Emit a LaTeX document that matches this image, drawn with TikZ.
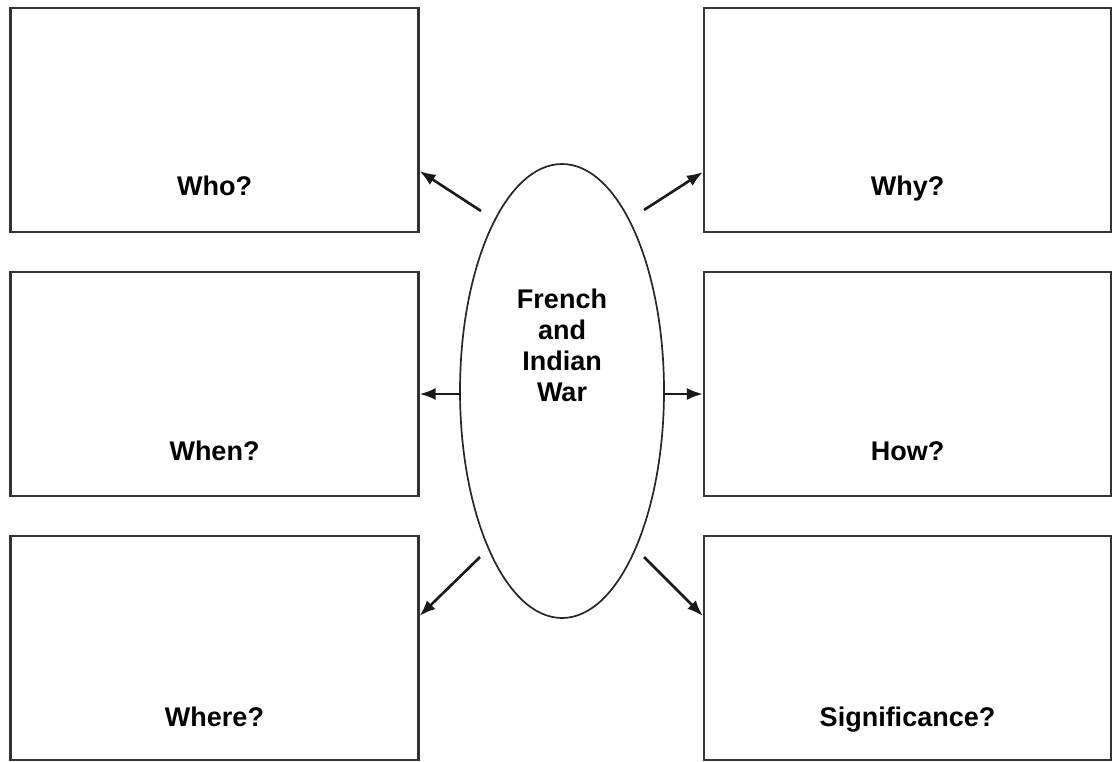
\documentclass[tikz,border=0pt]{standalone}
\usepackage{fontspec}
\setmainfont{Liberation Sans}
\usetikzlibrary{shapes.geometric, arrows.meta}

\begin{document}
\begin{tikzpicture}[x=1pt, y=-1pt,
		box/.style = {draw=black!80, line width=2.1pt, rectangle, inner sep=0pt, minimum width=408pt, minimum height=224pt},
		lbl/.style = {font=\fontsize{27}{31}\selectfont\bfseries, inner sep=0pt, anchor=base},
		arr/.style = {-{Latex[length=16pt,width=12pt]}, line width=2.6pt, black!90}]
			\useasboundingbox (0,0) rectangle (1113,761);
			
			\node[box] (who) at (214.5,120) {};
			\node[box] (when) at (214.5,384) {};
			\node[box] (where) at (214.5,648) {};
			\node[box, minimum width=407pt] (why) at (907.5,120) {};
			\node[box, minimum width=407pt] (how) at (907.5,384) {};
			\node[box, minimum width=407pt] (sig) at (907.5,648) {};
			
			\node[lbl] (wholbl) at ([yshift=38pt]who.south) {Who?};
			\node[lbl] (whenlbl) at ([yshift=37pt]when.south) {When?};
			\node[lbl] (wherelbl) at ([yshift=35pt]where.south) {Where?};
			\node[lbl] (whylbl) at ([yshift=38pt]why.south) {Why?};
			\node[lbl] (howlbl) at ([yshift=37pt]how.south) {How?};
			\node[lbl] (siglbl) at ([yshift=35pt]sig.south) {Significance?};
			
			\node[draw=black!85, line width=1.7pt, ellipse, inner sep=0pt, minimum width=204pt, minimum height=454pt] (war) at (562,391) {};
			\node[lbl, anchor=center, align=center] (wartxt) at (562,345) {French\\and\\Indian\\War};
			
			% arrow tails just off the ellipse
			\coordinate (t1) at (481,211);
			\coordinate (t2) at (644,210);
			\coordinate (t3) at (461,394);
			\coordinate (t4) at (664,394);
			\coordinate (t5) at (480,557);
			\coordinate (t6) at (644,557);
			
			\draw[arr] (t1) -- ([yshift=-51pt]who.east);
			\draw[arr] (t2) -- ([yshift=-52pt]why.west);
			\draw[arr] (t3) -- ([yshift=-10pt]when.east);
			\draw[arr] (t4) -- ([yshift=-10pt]how.west);
			\draw[arr] (t5) -- ([yshift=32pt]where.east);
			\draw[arr] (t6) -- ([yshift=32pt]sig.west);
			
			\end{tikzpicture}
\end{document}
